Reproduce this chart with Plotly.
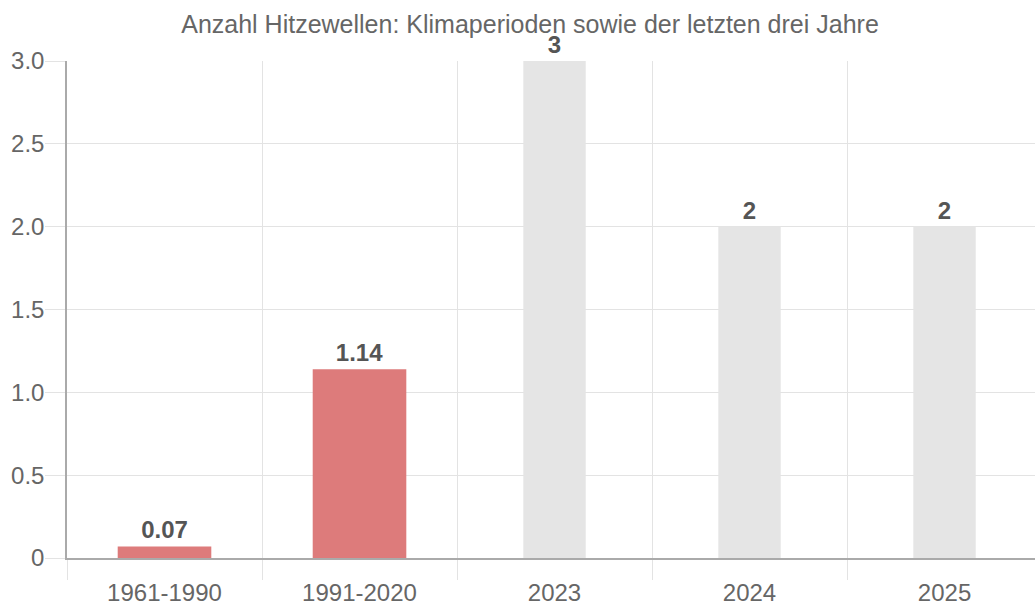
import plotly.graph_objects as go

categories = ["1961-1990", "1991-2020", "2023", "2024", "2025"]
values = [0.07, 1.14, 3, 2, 2]
value_labels = ["0.07", "1.14", "3", "2", "2"]
y_tickvals = [0, 0.5, 1.0, 1.5, 2.0, 2.5, 3.0]
y_ticktext = ["0", "0.5", "1.0", "1.5", "2.0", "2.5", "3.0"]

# styles
bar_colors = ["#dd7b7b", "#dd7b7b", "#e5e5e5", "#e5e5e5", "#e5e5e5"]
bar_widths = [0.48, 0.48, 0.32, 0.32, 0.32]
font_family = "Liberation Sans, Arial, sans-serif"
grid_color = "#e3e3e3"
text_color = "#666666"

fig = go.Figure()
fig.add_trace(go.Bar(
    x=categories,
    y=values,
    width=bar_widths,
    marker=dict(color=bar_colors, line=dict(width=0)),
    text=value_labels,
    texttemplate="<b>%{text}</b>",
    textposition="outside",
    textfont=dict(family=font_family, size=24, color="#555555"),
    cliponaxis=False,
    hoverinfo="skip",
))

fig.update_layout(
    width=1035,
    height=606,
    margin=dict(l=67, r=0, t=61, b=48, autoexpand=False),
    paper_bgcolor="white",
    plot_bgcolor="white",
    showlegend=False,
    title=dict(
        text="Anzahl Hitzewellen: Klimaperioden sowie der letzten drei Jahre",
        x=(530 - 67) / 968, xref="paper", xanchor="center",
        y=1 - 24 / 606, yref="container", yanchor="middle",
        font=dict(family=font_family, size=25, color=text_color),
    ),
    font=dict(family=font_family, color=text_color),
    bargap=0.5,
)

fig.update_xaxes(
    type="category",
    range=[-0.5, 4.464],
    tickson="boundaries",
    ticks="outside",
    ticklen=20,
    tickcolor=grid_color,
    showgrid=True,
    gridcolor=grid_color,
    gridwidth=1,
    showline=True,
    linecolor="#aaaaaa",
    linewidth=1.5,
    tickfont=dict(family=font_family, size=24, color=text_color),
    ticklabelstandoff=12,
    automargin=False,
    fixedrange=True,
)

fig.update_yaxes(
    range=[0, 3],
    tickvals=y_tickvals,
    ticktext=y_ticktext,
    ticks="outside",
    ticklen=20,
    tickcolor=grid_color,
    showgrid=True,
    gridcolor=grid_color,
    gridwidth=1,
    zeroline=False,
    showline=True,
    linecolor="#aaaaaa",
    linewidth=1.5,
    tickfont=dict(family=font_family, size=24, color=text_color),
    ticklabelstandoff=-4,
    automargin=False,
    fixedrange=True,
)

fig.write_html(
    "out.html",
    config={"displayModeBar": False},
    post_script="document.body.style.margin='0';document.body.style.overflow='hidden';",
)
